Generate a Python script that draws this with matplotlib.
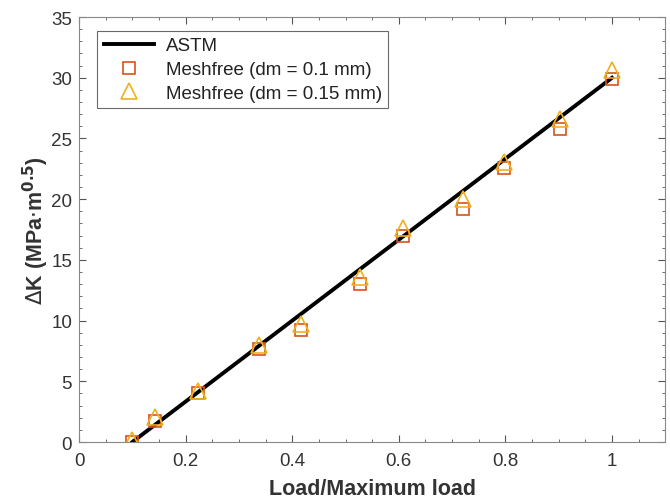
import numpy as np
import matplotlib.pyplot as plt
from matplotlib.ticker import MultipleLocator

plt.rcParams['font.family'] = ['Liberation Sans', 'DejaVu Sans']

# data
astm_x = [0.1, 1.0]
astm_y = [0.0, 30.0]
load = [0.1, 0.143, 0.224, 0.337, 0.416, 0.528, 0.608, 0.72, 0.797, 0.902, 1.0]
dk_01 = [0.0, 1.7, 4.0, 7.7, 9.2, 13.0, 17.0, 19.2, 22.6, 25.8, 29.9]
dk_015 = [0.2, 2.1, 4.2, 8.0, 9.7, 13.6, 17.6, 20.0, 23.1, 26.6, 30.6]

fig = plt.figure(figsize=(6.7, 5.02), dpi=100)
ax = fig.add_axes([0.118, 0.1175, 0.875, 0.8465])

ax.plot(astm_x, astm_y, color='black', lw=2.8, label='ASTM')
ax.plot(load, dk_01, ls='none', marker='s', ms=9, mfc='none', mec='#D95319',
        mew=1.2, label='Meshfree (dm = 0.1 mm)')
ax.plot(load, dk_015, ls='none', marker='^', ms=11, mfc='none', mec='#EDB120',
        mew=1.2, label='Meshfree (dm = 0.15 mm)')

ax.set_xlim(0, 1.1)
ax.set_ylim(0, 35)
ax.set_xticks([0, 0.2, 0.4, 0.6, 0.8, 1])
ax.set_xticklabels(['0', '0.2', '0.4', '0.6', '0.8', '1'])
ax.xaxis.set_minor_locator(MultipleLocator(0.05))
ax.yaxis.set_minor_locator(MultipleLocator(1))
ax.tick_params(which='both', direction='in', top=True, right=True,
               labelsize=13.5, labelcolor='#333333', color='#555555')
ax.tick_params(axis='x', pad=7)
ax.tick_params(axis='y', pad=5)
ax.tick_params(which='major', length=5)
ax.tick_params(which='minor', length=2.5)
for s in ax.spines.values():
    s.set_color('#888888')
    s.set_linewidth(0.8)

ax.set_xlabel('Load/Maximum load', fontsize=15.5, fontweight='bold',
              color='#333333', labelpad=7)
ax.set_ylabel(r'$\Delta$K (MPa$\cdot$m$^{\mathbf{0.5}}$)', fontsize=15.5,
              fontweight='bold', color='#333333', labelpad=0)

leg = ax.legend(loc='upper left', fontsize=13.5, frameon=True, fancybox=False,
                borderpad=0.35, handlelength=2.7, labelspacing=0.35,
                handletextpad=0.6, bbox_to_anchor=(0.015, 0.99))
leg.get_frame().set_edgecolor('#444444')
leg.get_frame().set_linewidth(0.8)
for t in leg.get_texts():
    t.set_color('#222222')

fig.savefig('out.png', dpi=100)
